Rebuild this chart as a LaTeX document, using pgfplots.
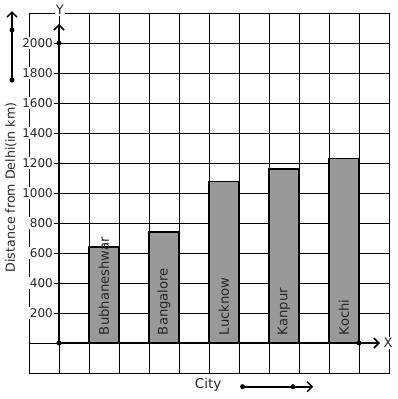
\documentclass[border=0pt]{standalone}
\usepackage{pgfplots}
\pgfplotsset{compat=1.18}
\usepackage{fontspec}
\setmainfont{DejaVu Sans}
\usetikzlibrary{arrows.meta}
\definecolor{barfill}{RGB}{153,153,153}
\begin{document}
\begin{tikzpicture}[font=\fontsize{12}{14}\selectfont]
\begin{axis}[
  x=30pt, y=0.15pt,
  xmin=-1, xmax=11, ymin=-200, ymax=2200,
  clip=false,
  xtick={-1,0,...,11}, xticklabels={},
  ytick={200,400,...,2000},
  /pgf/number format/1000 sep={},
  /pgf/number format/assume math mode=true,
  yticklabel style={anchor=east, fill=white, inner sep=1pt, xshift=25pt, text=black!85},
  major tick length=0pt,
  grid=major,
  grid style={black, line width=0.8pt},
  axis line style={black, line width=0.8pt},
]
% invisible bounding path (picture extents)
\path (axis cs:-1.9667,-373.3) rectangle (axis cs:11.2667,2286.7);
% thin grid line at y=0 left of y axis
\draw[black, line width=0.8pt] (axis cs:-1,0) -- (axis cs:0,0);
% bars
\addplot[ybar, bar width=1, fill=barfill, draw=black, line width=1.2pt]
  coordinates {(1.5,640) (3.5,740) (5.5,1075) (7.5,1160) (9.5,1230)};
% bar labels
\addplot[draw=none, nodes near coords, point meta=explicit symbolic,
  nodes near coords style={rotate=90, anchor=west, inner sep=0pt, text=black!85, font=\fontsize{13.2}{15}\selectfont}]
  coordinates {(1.5,52)[Bubhaneshwar] (3.5,52)[Bangalore] (5.5,52)[Lucknow] (7.5,52)[Kanpur] (9.5,52)[Kochi]};
% axes
\draw[line width=2.2pt, -{Straight Barb[length=5pt,width=10pt,line width=1.6pt]}] (axis cs:0,0) -- (axis cs:10.7,0);
\draw[line width=2.2pt, -{Straight Barb[length=5pt,width=10pt,line width=1.6pt]}] (axis cs:0,0) -- (axis cs:0,2127);
% decorative arrows
\draw[line width=1.8pt, -{Straight Barb[length=5pt,width=10pt,line width=1.4pt]}] (axis cs:-1.5667,1753) -- (axis cs:-1.5667,2213);
\draw[line width=1.8pt, -{Straight Barb[length=5pt,width=10pt,line width=1.4pt]}] (axis cs:6.12,-291) -- (axis cs:8.47,-291);
\addplot[only marks, mark=*, mark size=2.2pt, black]
  coordinates {(0,0) (10,0) (0,2000) (-1.5667,1753) (-1.5667,2087) (6.12,-291) (7.8,-291)};
% labels
\node[fill=white, inner sep=1pt, text=black!85, font=\fontsize{13}{15}\selectfont] at (axis cs:0.03,2220) {Y};
\node[fill=white, inner sep=1pt, text=black!85, font=\fontsize{13}{15}\selectfont] at (axis cs:10.97,0) {X};
\node[text=black!85, font=\fontsize{13.5}{15}\selectfont] at (axis cs:4.97,-280) {City};
\node[rotate=90, text=black!85, font=\fontsize{12.6}{15}\selectfont] at (axis cs:-1.6,1037) {Distance from Delhi(in km)};
\end{axis}
\end{tikzpicture}
\end{document}
